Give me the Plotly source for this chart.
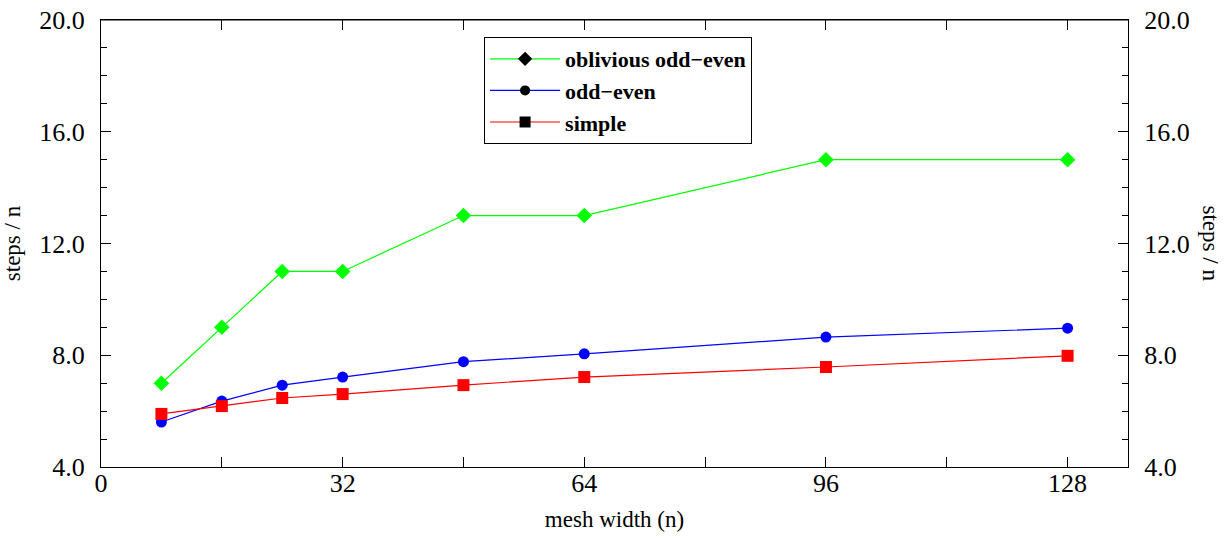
import plotly.graph_objects as go

mesh_width = [8, 16, 24, 32, 48, 64, 96, 128]
oblivious_odd_even = [7.0, 9.0, 11.0, 11.0, 13.0, 13.0, 15.0, 15.0]
odd_even = [5.61, 6.36, 6.93, 7.22, 7.77, 8.05, 8.65, 8.97]
simple = [5.9, 6.18, 6.47, 6.61, 6.93, 7.22, 7.58, 7.98]

series_names = ["oblivious odd\u2212even", "odd\u2212even", "simple"]
series_vals = [oblivious_odd_even, odd_even, simple]
series_colors = ["#00ff00", "#0000ff", "#ff0000"]
series_symbols = ["diamond", "circle", "square"]
series_sizes = [12, 11, 12]

x_ticks = [0, 32, 64, 96, 128]
y_ticks = [4, 8, 12, 16, 20]

FONT = "Liberation Serif"

fig = go.Figure()
for name, vals, col, sym, sz in zip(series_names, series_vals, series_colors, series_symbols, series_sizes):
    fig.add_trace(go.Scatter(
        x=mesh_width, y=vals, mode="lines+markers", name=name,
        line=dict(color=col, width=1.2),
        marker=dict(color=col, symbol=sym, size=sz),
        showlegend=False,
    ))
    fig.add_trace(go.Scatter(
        x=[None], y=[None], mode="lines+markers", name=name,
        line=dict(color=col, width=1.2),
        marker=dict(color="black", symbol=sym, size=sz - 1),
        showlegend=True,
    ))

fig.add_trace(go.Scatter(x=[None], y=[None], yaxis="y2", showlegend=False))

tickfont = dict(family=FONT, size=26, color="black")

fig.update_layout(
    width=1229, height=538,
    margin=dict(l=101, r=101, t=20, b=71, autoexpand=False),
    paper_bgcolor="white", plot_bgcolor="white",
    font=dict(family=FONT, color="black"),
    xaxis=dict(
        range=[0, 136], tickvals=x_ticks, ticktext=[str(v) for v in x_ticks],
        ticks="inside", ticklen=10, tickcolor="black", tickwidth=1,
        minor=dict(dtick=16, tick0=0, ticks="inside", ticklen=6, tickcolor="black"),
        showline=True, linecolor="black", linewidth=1, mirror="allticks",
        showgrid=False, zeroline=False, tickfont=tickfont, automargin=False,
        ticklabelstandoff=-7,
        title=dict(text="mesh width (n)", font=dict(family=FONT, size=23), standoff=13),
    ),
    yaxis=dict(
        range=[4, 20], tickvals=y_ticks, ticktext=[f"{v:.1f}" for v in y_ticks],
        ticks="inside", ticklen=10, tickcolor="black",
        minor=dict(dtick=1, tick0=0, ticks="inside", ticklen=6, tickcolor="black"),
        showline=True, linecolor="black", linewidth=1,
        showgrid=False, zeroline=False, tickfont=tickfont, automargin=False,
        ticklabelstandoff=10,
        title=dict(text="steps / n", font=dict(family=FONT, size=23), standoff=14),
    ),
    yaxis2=dict(
        range=[4, 20], tickvals=y_ticks, ticktext=[f"{v:.1f}" for v in y_ticks],
        overlaying="y", side="right",
        ticks="inside", ticklen=10, tickcolor="black",
        minor=dict(dtick=1, tick0=0, ticks="inside", ticklen=6, tickcolor="black"),
        showline=True, linecolor="black", linewidth=1,
        showgrid=False, zeroline=False, tickfont=tickfont, automargin=False,
        ticklabelstandoff=10,
    ),
    legend=dict(
        x=0.373, y=0.962, xanchor="left", yanchor="top",
        bgcolor="white", bordercolor="black", borderwidth=1,
        font=dict(family=FONT, size=22, color="black", weight="bold"),
        itemwidth=70, tracegroupgap=0,
    ),
    shapes=[
        dict(type="line", xref="x", yref="y", x0=0, x1=136, y0=20, y1=20,
             line=dict(color="black", width=1), layer="above"),
    ],
    annotations=[dict(
        text="steps / n", xref="paper", yref="paper", x=1.0, y=0.5,
        xanchor="center", yanchor="middle",
        xshift=82, showarrow=False, textangle=90,
        font=dict(family=FONT, size=23, color="black"),
    )],
)

fig.write_html("out.html", config={"displayModeBar": False},
               post_script="document.body.style.margin='0px';")
